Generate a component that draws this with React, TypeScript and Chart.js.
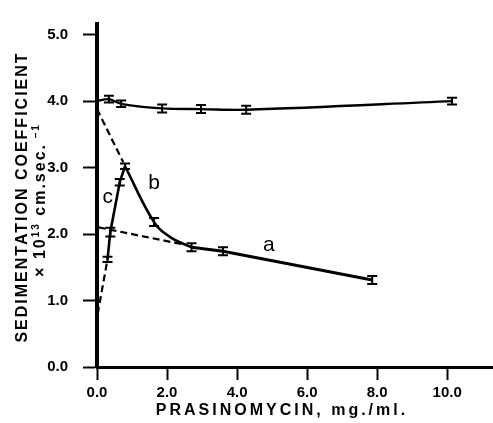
import React, { useEffect, useRef } from "react";
import { Chart, registerables } from "chart.js";

Chart.register(...registerables);

// ---- data ----
const xTicks = [0, 2, 4, 6, 8, 10];
const yTicks = [0, 1, 2, 3, 4, 5];

// upper (control) curve
const topX = [0, 0.34, 0.69, 1.86, 2.97, 4.26, 10.14];
const topY = [4.0, 4.03, 3.96, 3.89, 3.88, 3.87, 4.0];
const topErr = [0, 0.05, 0.05, 0.06, 0.06, 0.06, 0.05];

// curve c (rising part)
const cX = [0.3, 0.38, 0.65, 0.8];
const cY = [1.62, 2.03, 2.78, 3.02];
const cErr = [0.04, 0.065, 0.05, 0.04];

// curve b (falling part)
const bX = [0.8, 1.63, 2.1, 2.7];
const bY = [3.02, 2.18, 1.95, 1.8];
const bErr = [0, 0.06, 0, 0];

// curve a
const aX = [2.7, 3.6, 7.86];
const aY = [1.8, 1.74, 1.31];
const aErr = [0.06, 0.06, 0.06];

// dashed extrapolations
const d1X = [0.0, 0.75];
const d1Y = [3.88, 3.08];
const d2X = [0.05, 2.5];
const d2Y = [2.1, 1.84];
const d3X = [0.02, 0.3];
const d3Y = [0.8, 1.62];

// curve labels
const labelText = ["a", "b", "c"];
const labelX = [4.91, 1.63, 0.31];
const labelY = [1.83, 2.76, 2.55];

const xTitle = "PRASINOMYCIN, mg./ml.";
const yTitle1 = "SEDIMENTATION COEFFICIENT";
const yTitle2 = [
  { t: "× 10", sup: false },
  { t: "13", sup: true },
  { t: " cm.sec.", sup: false },
  { t: " –1", sup: true },
];

const pts = (xs: number[], ys: number[]) => xs.map((x, i) => ({ x, y: ys[i] }));

const errPlugin = {
  id: "errbars",
  afterDatasetsDraw(chart: any) {
    const ctx = chart.ctx;
    const xs = chart.scales.x;
    const ys = chart.scales.y;
    ctx.save();
    ctx.strokeStyle = "#000";
    ctx.lineWidth = 2;
    chart.data.datasets.forEach((ds: any) => {
      if (!ds.err) return;
      ds.data.forEach((p: any, i: number) => {
        const e = ds.err[i];
        if (!e) return;
        const px = xs.getPixelForValue(p.x);
        const y1 = ys.getPixelForValue(p.y - e);
        const y2 = ys.getPixelForValue(p.y + e);
        ctx.beginPath();
        ctx.moveTo(px, y1);
        ctx.lineTo(px, y2);
        ctx.moveTo(px - 5, y1);
        ctx.lineTo(px + 5, y1);
        ctx.moveTo(px - 5, y2);
        ctx.lineTo(px + 5, y2);
        ctx.stroke();
      });
    });
    ctx.restore();
  },
};

const textPlugin = {
  id: "texts",
  afterDraw(chart: any) {
    const ctx = chart.ctx;
    const xs = chart.scales.x;
    const ys = chart.scales.y;
    ctx.save();
    ctx.fillStyle = "#000";
    ctx.textBaseline = "middle";
    ctx.textAlign = "center";
    // curve labels
    ctx.font = "21px 'Liberation Sans', Arial, sans-serif";
    labelText.forEach((t, i) => {
      ctx.fillText(t, xs.getPixelForValue(labelX[i]), ys.getPixelForValue(labelY[i]));
    });
    // x title
    (ctx as any).letterSpacing = "3px";
    ctx.font = "bold 16px 'Liberation Sans', Arial, sans-serif";
    ctx.fillText(xTitle, xs.left + 185, 411);
    // y title line 1
    ctx.save();
    ctx.translate(23, 197);
    ctx.rotate(-Math.PI / 2);
    (ctx as any).letterSpacing = "2px";
    ctx.font = "bold 16px 'Liberation Sans', Arial, sans-serif";
    ctx.fillText(yTitle1, 0, 0);
    ctx.restore();
    // y title line 2
    ctx.save();
    ctx.translate(41, 200);
    ctx.rotate(-Math.PI / 2);
    (ctx as any).letterSpacing = "2px";
    ctx.textAlign = "left";
    const big = "bold 16px 'Liberation Sans', Arial, sans-serif";
    const small = "bold 10px 'Liberation Sans', Arial, sans-serif";
    let total = 0;
    yTitle2.forEach((p) => {
      ctx.font = p.sup ? small : big;
      total += ctx.measureText(p.t).width;
    });
    let cx = -total / 2;
    yTitle2.forEach((p) => {
      ctx.font = p.sup ? small : big;
      ctx.fillText(p.t, cx, p.sup ? -5 : 0);
      cx += ctx.measureText(p.t).width;
    });
    ctx.restore();
    ctx.restore();
  },
};

export default function App() {
  const ref = useRef<HTMLCanvasElement | null>(null);
  useEffect(() => {
    if (!ref.current) return;
    const solid = (xs: number[], ys: number[], err: number[], tension: number, width: number) => ({
      data: pts(xs, ys),
      err,
      showLine: true,
      borderColor: "#000",
      borderWidth: width,
      pointRadius: 0,
      tension,
      fill: false,
    });
    const dashed = (xs: number[], ys: number[]) => ({
      data: pts(xs, ys),
      showLine: true,
      borderColor: "#000",
      borderWidth: 2.2,
      borderDash: [7, 4],
      pointRadius: 0,
      tension: 0,
      fill: false,
    });
    const tickFont = { family: "'Liberation Sans', Arial, sans-serif", size: 15, weight: "bold" };
    const chart = new Chart(ref.current, {
      type: "scatter",
      data: {
        datasets: [
          solid(topX, topY, topErr, 0.35, 2.3) as any,
          solid(cX, cY, cErr, 0, 2.6) as any,
          solid(bX, bY, bErr, 0.4, 2.6) as any,
          solid(aX, aY, aErr, 0, 3) as any,
          dashed(d1X, d1Y) as any,
          dashed(d2X, d2Y) as any,
          dashed(d3X, d3Y) as any,
        ],
      },
      options: {
        animation: false,
        responsive: false,
        maintainAspectRatio: false,
        layout: { padding: { top: 12, right: 0, left: 0, bottom: 0 } },
        plugins: { legend: { display: false }, tooltip: { enabled: false } },
        scales: {
          x: {
            type: "linear",
            min: 0,
            max: 11.31,
            afterBuildTicks: (s: any) => {
              s.ticks = xTicks.map((v) => ({ value: v }));
            },
            afterFit: (s: any) => {
              s.height = 56;
            },
            grid: {
              display: true,
              drawOnChartArea: false,
              drawTicks: true,
              tickLength: 13,
              tickWidth: 2,
              tickColor: "#000",
              color: "#000",
            },
            border: { display: true, width: 3, color: "#000" },
            ticks: {
              color: "#000",
              padding: 4,
              font: tickFont,
              callback: (v: any) => Number(v).toFixed(1),
            },
          },
          y: {
            type: "linear",
            min: 0,
            max: 5.16,
            afterBuildTicks: (s: any) => {
              s.ticks = yTicks.map((v) => ({ value: v }));
            },
            afterFit: (s: any) => {
              s.width = 97;
            },
            grid: {
              display: true,
              drawOnChartArea: false,
              drawTicks: true,
              tickLength: 14,
              tickWidth: 2,
              tickColor: "#000",
              color: "#000",
            },
            border: { display: true, width: 4, color: "#000" },
            ticks: {
              color: "#000",
              padding: 15,
              font: tickFont,
              callback: (v: any) => Number(v).toFixed(1),
            },
          },
        },
      } as any,
      plugins: [errPlugin, textPlugin],
    });
    return () => chart.destroy();
  }, []);
  return (
    <div style={{ position: "fixed", left: 0, top: 0, width: 493, height: 423, background: "#fff" }}>
      <canvas ref={ref} width={493} height={423} style={{ width: 493, height: 423 }} />
    </div>
  );
}
